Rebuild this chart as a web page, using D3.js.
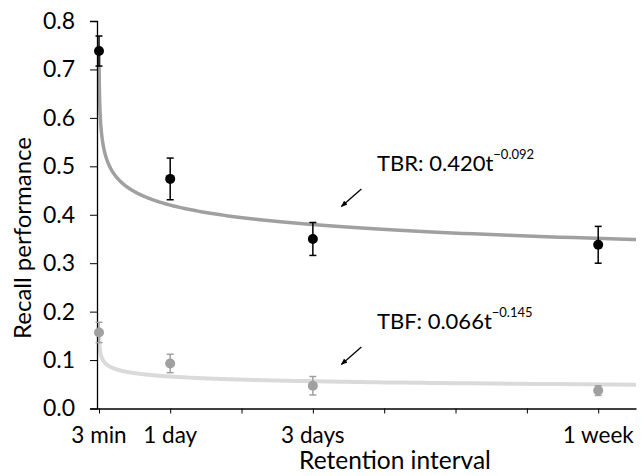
<!DOCTYPE html>
<html>
<head>
<meta charset="utf-8">
<script src="https://cdn.jsdelivr.net/npm/d3@7"></script>
<style>
  body { margin: 0; background: #fff; }
  text { font-family: Lato, "Open Sans", sans-serif; fill: #000; }
</style>
</head>
<body>
<div id="chart"></div>
<script>
// retention intervals (in days) and their labels
const intervals = [3 / 1440, 1, 3, 7];
const intervalLabels = ["3 min", "1 day", "3 days", "1 week"];
const minorTicks = [2, 4, 5, 6];

// recall performance, mean and error bar half width
const tbrMean = [0.738, 0.474, 0.350, 0.338];
const tbrErr = [0.031, 0.043, 0.034, 0.038];
const tbfMean = [0.157, 0.093, 0.047, 0.037];
const tbfErr = [0.021, 0.019, 0.019, 0.010];

// power fits a * t^b
const tbrFit = [0.420, -0.092];
const tbfFit = [0.066, -0.145];

const yTicks = [0, 0.1, 0.2, 0.3, 0.4, 0.5, 0.6, 0.7, 0.8];

const width = 642, height = 476;

const svg = d3.select("#chart").append("svg")
    .attr("width", width)
    .attr("height", height);

const x = d3.scaleLinear().domain([-0.026, 7.53]).range([97, 636]);
const y = d3.scaleLinear().domain([0, 0.8]).range([408.5, 21]);

// fitted curves
function fitPoints(p) {
    const pts = [];
    for (let t = intervals[0]; t <= x.domain()[1]; t *= 1.03) pts.push([t, p[0] * Math.pow(t, p[1])]);
    pts.push([x.domain()[1], p[0] * Math.pow(x.domain()[1], p[1])]);
    return pts;
}
const line = d3.line().x(d => x(d[0])).y(d => y(d[1]));

svg.append("path")
    .datum(fitPoints(tbfFit))
    .attr("fill", "none")
    .attr("stroke", "#dadada")
    .attr("stroke-width", 4)
    .attr("d", line);

svg.append("path")
    .datum(fitPoints(tbrFit))
    .attr("fill", "none")
    .attr("stroke", "#a0a0a0")
    .attr("stroke-width", 3.5)
    .attr("d", line);

// axes
const yAxis = svg.append("g")
    .attr("transform", `translate(${x(x.domain()[0])},0)`)
    .call(d3.axisLeft(y).tickValues(yTicks).tickFormat(d3.format(".1f")).tickSize(7).tickPadding(15));
yAxis.select(".domain").attr("stroke", "#000").attr("stroke-width", 1.3);
yAxis.selectAll("text").style("font-size", "23px");

const xAxis = svg.append("g")
    .attr("transform", `translate(0,${y(0)})`)
    .call(d3.axisBottom(x).tickValues(intervals.concat(minorTicks)).tickFormat("").tickSize(5).tickSizeOuter(0));
xAxis.select(".domain").attr("stroke", "#000").attr("stroke-width", 1.3);

svg.append("g").selectAll("text")
    .data(intervals)
    .join("text")
    .attr("x", d => x(d))
    .attr("y", y(0) + 34)
    .attr("text-anchor", "middle")
    .style("font-size", "22.5px")
    .text((d, i) => intervalLabels[i]);

svg.append("text")
    .attr("x", 395)
    .attr("y", 469)
    .attr("text-anchor", "middle")
    .style("font-size", "24.5px")
    .text("Retention interval");

svg.append("text")
    .attr("transform", `translate(31,238) rotate(-90)`)
    .attr("text-anchor", "middle")
    .style("font-size", "24px")
    .text("Recall performance");

// error bars and points
function drawSeries(mean, err, color, r) {
    const g = svg.append("g");
    const rows = intervals.map((t, i) => ({ t, m: mean[i], e: err[i] }));
    g.selectAll(".bar").data(rows).join("line")
        .attr("x1", d => x(d.t)).attr("x2", d => x(d.t))
        .attr("y1", d => y(d.m + d.e)).attr("y2", d => y(d.m - d.e))
        .attr("stroke", color).attr("stroke-width", 1.5);
    g.selectAll(".capTop").data(rows).join("line")
        .attr("x1", d => x(d.t) - 3.5).attr("x2", d => x(d.t) + 3.5)
        .attr("y1", d => y(d.m + d.e)).attr("y2", d => y(d.m + d.e))
        .attr("stroke", color).attr("stroke-width", 1.5);
    g.selectAll(".capBot").data(rows).join("line")
        .attr("x1", d => x(d.t) - 3.5).attr("x2", d => x(d.t) + 3.5)
        .attr("y1", d => y(d.m - d.e)).attr("y2", d => y(d.m - d.e))
        .attr("stroke", color).attr("stroke-width", 1.5);
    g.selectAll("circle").data(rows).join("circle")
        .attr("cx", d => x(d.t)).attr("cy", d => y(d.m))
        .attr("r", r).attr("fill", color);
}
drawSeries(tbfMean, tbfErr, "#a0a0a0", 5);
drawSeries(tbrMean, tbrErr, "#000", 5);

// annotations
const notes = [
    { label: "TBR: 0.420t", exp: "\u22120.092", tx: 3.9, ty: 0.49, ax: 3.68, ay: 0.453, bx: 3.4, by: 0.417 },
    { label: "TBF: 0.066t", exp: "\u22120.145", tx: 3.9, ty: 0.164, ax: 3.68, ay: 0.127, bx: 3.4, by: 0.091 }
];
svg.append("defs").append("marker")
    .attr("id", "arrow")
    .attr("viewBox", "0 0 10 10")
    .attr("refX", 9).attr("refY", 5)
    .attr("markerWidth", 5).attr("markerHeight", 5)
    .attr("orient", "auto")
    .append("path").attr("d", "M0,1 L10,5 L0,9 Z").attr("fill", "#000");

notes.forEach(n => {
    const t = svg.append("text")
        .attr("x", x(n.tx))
        .attr("y", y(n.ty))
        .style("font-size", "22px")
        .text(n.label);
    t.append("tspan")
        .attr("dy", -12)
        .style("font-size", "13px")
        .text(n.exp);
    svg.append("line")
        .attr("x1", x(n.ax)).attr("y1", y(n.ay))
        .attr("x2", x(n.bx)).attr("y2", y(n.by))
        .attr("stroke", "#000").attr("stroke-width", 1.3)
        .attr("marker-end", "url(#arrow)");
});
</script>
</body>
</html>
